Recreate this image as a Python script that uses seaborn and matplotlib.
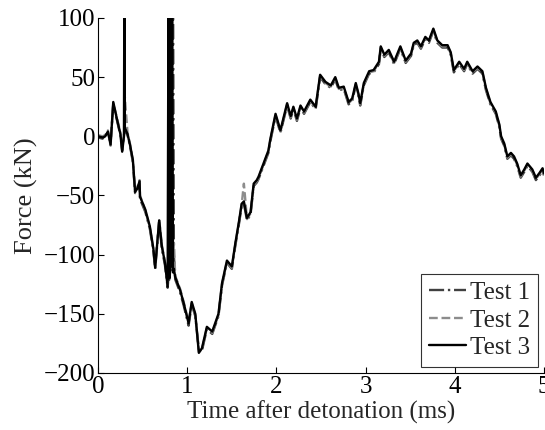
import matplotlib.pyplot as plt
import seaborn as sns
import pandas as pd

# time after detonation (ms), shared by the three tests
time_ms = [
    0.00, 0.05, 0.08, 0.11, 0.14, 0.17, 0.21, 0.25, 0.27, 0.29,
    0.295, 0.30, 0.33, 0.36, 0.39, 0.415, 0.44, 0.465, 0.47, 0.53,
    0.58, 0.62, 0.64, 0.685, 0.715, 0.75, 0.78, 0.79, 0.80, 0.81,
    0.82, 0.83, 0.84, 0.85, 0.865, 0.92, 0.96, 1.015, 1.05, 1.09,
    1.13, 1.165, 1.22, 1.28, 1.35, 1.39, 1.445, 1.50, 1.54, 1.58,
    1.61, 1.635, 1.67, 1.71, 1.745, 1.78, 1.80, 1.855, 1.91, 1.93,
    1.99, 2.045, 2.12, 2.16, 2.19, 2.23, 2.27, 2.31, 2.38, 2.44,
    2.49, 2.55, 2.61, 2.66, 2.70, 2.755, 2.81, 2.85, 2.89, 2.92,
    2.94, 2.98, 3.04, 3.09, 3.15, 3.17, 3.21, 3.26, 3.32, 3.39,
    3.45, 3.51, 3.54, 3.58, 3.62, 3.67, 3.71, 3.76, 3.805, 3.86,
    3.92, 3.955, 3.99, 4.05, 4.105, 4.14, 4.20, 4.255, 4.31, 4.35,
    4.40, 4.46, 4.50, 4.52, 4.555, 4.59, 4.63, 4.665, 4.70, 4.74,
    4.78, 4.815, 4.87, 4.91, 4.95, 4.985, 5.00,
]

force_test1 = [
    -1, -2, 1, 3, -6, 27, 14, 1, -12, 0,
    4, 6, 1, -9, -22, -48, -45, -40, -53, -64,
    -78, -97, -112, -73, -95, -109, -128, -118, -121, -112,
    -108, -114, 140, -100, -121, -132, -143, -160, -142, -152,
    -180, -181, -163, -167, -152, -126, -107, -112, -92, -74,
    -59, -57, -71, -66, -42, -39, -36, -25, -14, -5,
    17, 3, 26, 15, 23, 13, 24, 19, 29, 23,
    50, 44, 41, 48, 39, 40, 27, 30, 43, 34,
    26, 43, 53, 54, 61, 74, 67, 71, 61, 74,
    62, 68, 77, 79, 74, 82, 79, 89, 79, 75,
    75, 69, 54, 61, 55, 61, 53, 57, 53, 39,
    27, 19, 8, -2, -8, -19, -16, -19, -25, -35,
    -30, -25, -30, -37, -33, -29, -33,
]

force_test2 = [
    1, 0, 1, 5, -8, 28, 16, 3, -11, 1,
    10, 33, 3, -7, -21, -46, -43, -37, -50, -63,
    -77, -96, -110, -70, -92, -106, -126, -110, -79, -95,
    -85, -100, -105, -90, -118, -129, -140, -157, -141, -151,
    -182, -180, -162, -166, -151, -125, -106, -111, -91, -73,
    -58, -40, -70, -65, -41, -38, -35, -24, -13, -4,
    18, 4, 27, 16, 24, 14, 25, 20, 30, 24,
    51, 45, 42, 49, 40, 41, 28, 31, 44, 35,
    27, 44, 54, 55, 62, 75, 68, 72, 62, 75,
    63, 69, 78, 80, 75, 83, 80, 90, 80, 76,
    76, 70, 55, 62, 56, 62, 54, 58, 54, 40,
    28, 20, 9, -1, -7, -18, -15, -18, -24, -34,
    -29, -24, -29, -36, -32, -28, -32,
]

force_test3 = [
    0, -1, 0, 4, -7, 29, 15, 2, -13, 0,
    140, 7, 2, -8, -20, -47, -44, -38, -51, -62,
    -76, -95, -111, -71, -93, -107, -127, 140, -120, 140,
    -110, 140, -115, -112, -119, -130, -141, -158, -140, -150,
    -183, -179, -161, -165, -150, -124, -105, -110, -90, -72,
    -57, -55, -69, -64, -40, -37, -34, -23, -12, -3,
    19, 5, 28, 17, 25, 15, 26, 21, 31, 25,
    52, 46, 43, 50, 41, 42, 29, 32, 45, 36,
    28, 45, 55, 56, 63, 76, 69, 73, 63, 76,
    64, 70, 79, 81, 76, 84, 81, 91, 81, 77,
    77, 71, 56, 63, 57, 63, 55, 59, 55, 41,
    29, 21, 10, 0, -6, -17, -14, -17, -23, -33,
    -28, -23, -28, -35, -31, -27, -31,
]

x_ticks = [0, 1, 2, 3, 4, 5]
y_ticks = [-200, -150, -100, -50, 0, 50, 100]
y_tick_labels = ['\u2212200', '\u2212150', '\u2212100', '\u221250', '0', '50', '100']

sns.set_style("ticks")
plt.rcParams['font.family'] = ['Liberation Serif', 'DejaVu Serif']

fig = plt.figure(figsize=(5.45, 4.3), dpi=100)
ax = fig.add_axes([0.18, 0.1326, 0.818, 0.8256])

styles = [
    ('Test 1', force_test1, '#404040', '-.'),
    ('Test 2', force_test2, '#8c8c8c', '--'),
    ('Test 3', force_test3, 'black', '-'),
]
for name, force, color, ls in styles:
    sns.lineplot(x=time_ms, y=force, ax=ax, color=color, linestyle=ls,
                 linewidth=1.7, label=name, estimator=None, sort=False)

ax.set_xlim(0, 5)
ax.set_ylim(-200, 100)
ax.set_xticks(x_ticks)
ax.set_yticks(y_ticks)
ax.set_yticklabels(y_tick_labels)
ax.tick_params(direction='in', length=4, width=0.8, labelsize=18, pad=2,
               colors='black')
ax.set_xlabel('Time after detonation (ms)', fontsize=18, labelpad=2)
ax.set_ylabel('Force (kN)', fontsize=19, labelpad=4)

for side in ['top', 'right']:
    ax.spines[side].set_visible(False)
for side in ['left', 'bottom']:
    ax.spines[side].set_color('black')
    ax.spines[side].set_linewidth(0.8)

leg = ax.legend(loc='lower right', fontsize=18, frameon=True, fancybox=False,
                handlelength=1.5, handletextpad=0.15, borderpad=0.3,
                labelspacing=0.2, borderaxespad=0.25)
leg.get_frame().set_edgecolor('black')
leg.get_frame().set_linewidth(0.8)

fig.savefig('out.png', dpi=100)
